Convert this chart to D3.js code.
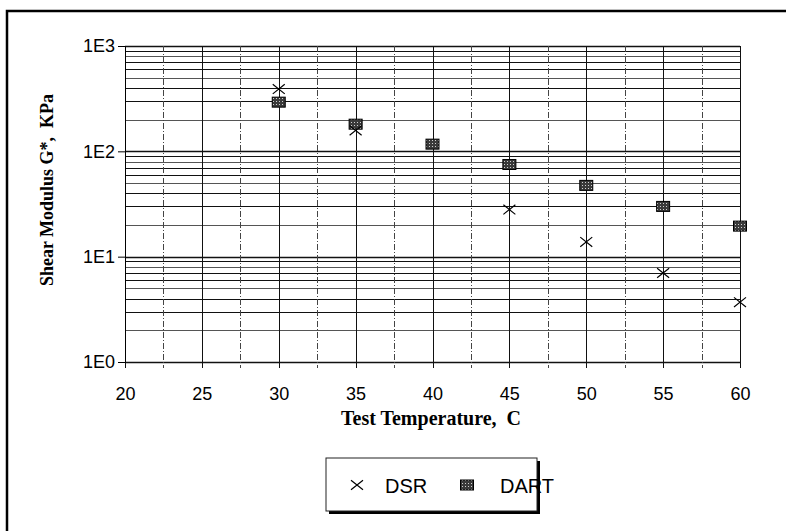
<!DOCTYPE html>
<html>
<head>
<meta charset="utf-8">
<script src="https://cdn.jsdelivr.net/npm/d3@7"></script>
<style>
  body { margin: 0; background: #fff; }
</style>
</head>
<body>
<div id="chart"></div>
<script>
// data
var temps = [30, 35, 40, 45, 50, 55, 60];
var dsrTemps = [30, 35, 45, 50, 55, 60];
var dsrValues = [390, 158, 28, 13.8, 7, 3.7];
var dartValues = [293, 181, 117, 75, 47.5, 30, 19.5];
var xTicks = [20, 25, 30, 35, 40, 45, 50, 55, 60];
var yTicks = [1, 10, 100, 1000];
var yTickLabels = ["1E0", "1E1", "1E2", "1E3"];
var legendNames = ["DSR", "DART"];

var W = 786, H = 531;
var margin = {top: 46, right: 46, bottom: 169, left: 125};
var width = W - margin.left - margin.right,
    height = H - margin.top - margin.bottom;

var svg = d3.select("#chart").append("svg")
    .attr("width", W)
    .attr("height", H);

// hatched fill for the DART squares
var defs = svg.append("defs");
var pat = defs.append("pattern")
    .attr("id", "hatch")
    .attr("patternUnits", "userSpaceOnUse")
    .attr("width", 3).attr("height", 3);
pat.append("rect").attr("width", 3).attr("height", 3).attr("fill", "#3a3a3a");
pat.append("rect").attr("x", 1).attr("y", 1).attr("width", 1).attr("height", 1).attr("fill", "#d0d0d0");

// outer frame (only left and top edges fall inside the picture)
svg.append("path")
    .attr("d", "M7," + H + "L7,11L" + W + ",11")
    .attr("fill", "none")
    .attr("stroke", "#000")
    .attr("stroke-width", 2.5);

var g = svg.append("g")
    .attr("transform", "translate(" + margin.left + "," + margin.top + ")");

var x = d3.scaleLinear().domain([20, 60]).range([0, width]);
var y = d3.scaleLog().domain([1, 1000]).range([height, 0]);

// horizontal grid: every 1..9 x 10^n
var hLines = [];
[1, 10, 100].forEach(function(d){
  for (var k = 1; k <= 9; k++) hLines.push(d * k);
});
hLines.push(1000);

g.append("g").selectAll("line")
    .data(hLines)
    .enter().append("line")
    .attr("x1", 0).attr("x2", width)
    .attr("y1", function(d){ return Math.round(y(d)) + 0.5; })
    .attr("y2", function(d){ return Math.round(y(d)) + 0.5; })
    .attr("stroke", function(d, i){ return i % 3 == 1 ? "#555" : "#111"; })
    .attr("stroke-width", function(d){ return yTicks.indexOf(d) >= 0 ? 1.4 : 1; });

// vertical grid every 2.5 C
var vLines = d3.range(20, 60.1, 2.5);
g.append("g").selectAll("line")
    .data(vLines)
    .enter().append("line")
    .attr("x1", function(d){ return Math.round(x(d)) + 0.5; })
    .attr("x2", function(d){ return Math.round(x(d)) + 0.5; })
    .attr("y1", 0).attr("y2", height + 6)
    .attr("stroke", function(d){ return d % 5 == 0 ? "#111" : "#444"; })
    .attr("stroke-width", 1)
    .attr("stroke-dasharray", function(d){ return d % 5 == 0 ? null : "6,2,1,2"; });

// axes
var yAxis = d3.axisLeft(y)
    .tickValues(yTicks)
    .tickFormat(function(d, i){ return yTickLabels[i]; })
    .tickSize(7)
    .tickPadding(3);
var yG = g.append("g").call(yAxis);
yG.select(".domain").attr("stroke", "#000");
yG.selectAll("text")
    .attr("font-family", "Liberation Sans, Arial, sans-serif")
    .attr("font-size", 18)
    .attr("fill", "#000");

var xAxis = d3.axisBottom(x)
    .tickValues(xTicks)
    .tickSize(0)
    .tickPadding(22);
var xG = g.append("g")
    .attr("transform", "translate(0," + height + ")")
    .call(xAxis);
xG.select(".domain").remove();
xG.selectAll("text")
    .attr("font-family", "Liberation Sans, Arial, sans-serif")
    .attr("font-size", 18)
    .attr("dy", "0")
    .attr("y", 38)
    .attr("fill", "#000");

// axis titles
svg.append("text")
    .attr("x", 431)
    .attr("y", 425)
    .attr("text-anchor", "middle")
    .attr("font-family", "Liberation Serif, Times New Roman, serif")
    .attr("font-weight", "bold")
    .attr("font-size", 20)
    .style("white-space", "pre")
    .text("Test Temperature,  C");

svg.append("text")
    .attr("transform", "translate(53,190) rotate(-90)")
    .attr("text-anchor", "middle")
    .attr("font-family", "Liberation Serif, Times New Roman, serif")
    .attr("font-weight", "bold")
    .attr("font-size", 18)
    .style("white-space", "pre")
    .text("Shear Modulus G*,  KPa");

// marker helpers
function drawCross(sel, cx, cy){
  var s = 6;
  sel.append("path")
    .attr("d", "M" + (cx - s) + "," + (cy - s * 0.8) + "L" + (cx + s) + "," + (cy + s * 0.8) +
               "M" + (cx - s) + "," + (cy + s * 0.8) + "L" + (cx + s) + "," + (cy - s * 0.8))
    .attr("stroke", "#000")
    .attr("stroke-width", 1.2)
    .attr("fill", "none");
}
function drawSquare(sel, cx, cy){
  sel.append("rect")
    .attr("x", cx - 6.5).attr("y", cy - 5)
    .attr("width", 13).attr("height", 10)
    .attr("fill", "url(#hatch)")
    .attr("stroke", "#000")
    .attr("stroke-width", 1);
}

var dart = g.append("g");
temps.forEach(function(t, i){
  drawSquare(dart, x(t), y(dartValues[i]));
});
var dsr = g.append("g");
dsrTemps.forEach(function(t, i){
  drawCross(dsr, x(t), y(dsrValues[i]));
});

// legend
var lg = svg.append("g").attr("transform", "translate(326,458)");
lg.append("rect")
    .attr("x", 3).attr("y", 3).attr("width", 211).attr("height", 53)
    .attr("fill", "#000");
lg.append("rect")
    .attr("x", 0).attr("y", 0).attr("width", 211).attr("height", 53)
    .attr("fill", "#fff")
    .attr("stroke", "#222")
    .attr("stroke-width", 1);
drawCross(lg, 31, 27);
lg.append("text")
    .attr("x", 59).attr("y", 35)
    .attr("font-family", "Liberation Sans, Arial, sans-serif")
    .attr("font-size", 20)
    .text(legendNames[0]);
drawSquare(lg, 141, 27);
lg.append("text")
    .attr("x", 174).attr("y", 35)
    .attr("font-family", "Liberation Sans, Arial, sans-serif")
    .attr("font-size", 20)
    .text(legendNames[1]);
</script>
</body>
</html>
